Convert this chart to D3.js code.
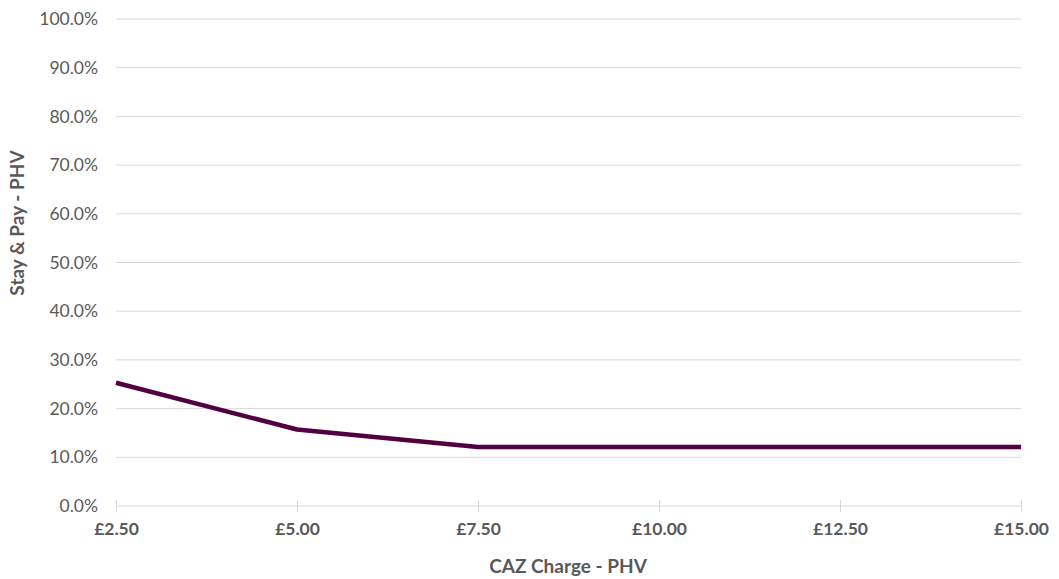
<!DOCTYPE html>
<html>
<head>
<meta charset="utf-8">
<script src="https://cdn.jsdelivr.net/npm/d3@7"></script>
<style>
  body { margin: 0; background: #fff; }
  svg { display: block; }
  text { font-family: Lato, "Open Sans", sans-serif; }
</style>
</head>
<body>
<svg id="chart" width="1059" height="579"></svg>
<script>
// Charge levels and share of PHV drivers who stay and pay
const charges = ["£2.50", "£5.00", "£7.50", "£10.00", "£12.50", "£15.00"];
const stayPay = [0.253, 0.157, 0.121, 0.121, 0.121, 0.121];
const yTicks = [0, 0.1, 0.2, 0.3, 0.4, 0.5, 0.6, 0.7, 0.8, 0.9, 1.0];

const svg = d3.select("#chart");
const plot = { left: 116, right: 1021, top: 19, bottom: 506 };

const x = d3.scalePoint().domain(charges).range([plot.left, plot.right]);
const y = d3.scaleLinear().domain([0, 1]).range([plot.bottom, plot.top]);

// Horizontal gridlines
svg.append("g")
  .selectAll("line")
  .data(yTicks.filter(d => d > 0))
  .join("line")
  .attr("x1", plot.left).attr("x2", plot.right)
  .attr("y1", d => y(d)).attr("y2", d => y(d))
  .attr("stroke", "#d9d9d9").attr("stroke-width", 1);

// Y axis labels
const yAxis = d3.axisLeft(y).tickValues(yTicks).tickFormat(d3.format(".1%")).tickSize(0).tickPadding(18);
const gy = svg.append("g").attr("transform", `translate(${plot.left},0)`).call(yAxis);
gy.select(".domain").remove();
gy.selectAll("text").attr("fill", "#595959").style("font-size", "17.5px");

// X axis with crossing tick marks
const xAxis = d3.axisBottom(x).tickSize(0).tickPadding(17);
const gx = svg.append("g").attr("transform", `translate(0,${plot.bottom})`).call(xAxis);
gx.select(".domain").attr("stroke", "#d9d9d9").attr("d", `M${plot.left},0H${plot.right}`);
gx.selectAll("text").attr("fill", "#595959").style("font-size", "17.5px").style("font-weight", "bold");
gx.selectAll(".tick").append("line")
  .attr("y1", -6).attr("y2", 6).attr("stroke", "#d9d9d9");

// Data line
const line = d3.line().x((d, i) => x(charges[i])).y(d => y(d));
svg.append("path")
  .datum(stayPay)
  .attr("d", line)
  .attr("fill", "none")
  .attr("stroke", "#520041")
  .attr("stroke-width", 4.5)
  .attr("stroke-linejoin", "round");

// Axis titles
svg.append("text")
  .attr("x", 568).attr("y", 573)
  .attr("text-anchor", "middle")
  .attr("fill", "#595959")
  .style("font-size", "19px").style("font-weight", "bold")
  .text("CAZ Charge - PHV");

svg.append("text")
  .attr("transform", `translate(24,223) rotate(-90)`)
  .attr("text-anchor", "middle")
  .attr("fill", "#595959")
  .style("font-size", "19px").style("font-weight", "bold")
  .text("Stay & Pay - PHV");
</script>
</body>
</html>
